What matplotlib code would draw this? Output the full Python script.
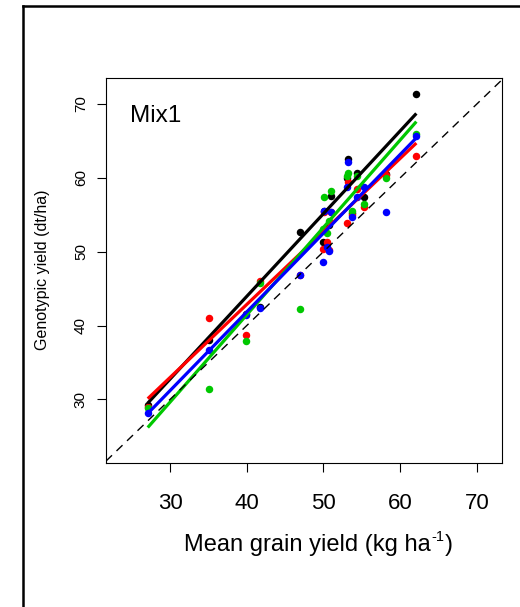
import matplotlib
matplotlib.use('Agg')
import matplotlib.pyplot as plt
from matplotlib.lines import Line2D
from matplotlib.text import Annotation

plt.rcParams['font.family'] = ['Liberation Sans', 'DejaVu Sans']

# environment means (x) and genotypic yields per colour group
env_mean = [27.1, 35.1, 39.9, 41.7, 46.9, 49.9, 50.1, 50.5, 50.7, 51.0,
            53.2, 53.1, 53.7, 54.4, 55.3, 58.2, 62.1]
black_y = [29.2, 38.0, 41.6, 42.5, 52.7, 51.3, 55.5, 51.0, 53.6, 57.5,
           62.6, 60.0, 55.2, 60.7, 57.4, 60.5, 71.4]
red_y = [29.0, 41.0, 38.7, 46.0, 46.9, 50.3, 55.3, 51.3, 50.2, 55.3,
         59.4, 53.9, 55.0, 58.5, 56.0, 60.4, 62.9]
green_y = [28.8, 31.4, 37.9, 45.8, 42.2, 53.0, 57.4, 52.5, 54.2, 58.2,
           60.7, 60.3, 55.5, 60.2, 56.4, 59.9, 65.9]
blue_y = [28.1, 36.7, 41.4, 42.4, 46.8, 48.6, 55.5, 50.6, 50.1, 55.4,
          62.2, 58.7, 54.7, 57.4, 58.7, 55.4, 65.6]

# fitted lines: value at min and max of env_mean
fit_start = {'black': 29.5, 'red': 30.1, 'green': 26.2, 'blue': 28.1}
fit_end = {'black': 68.7, 'red': 64.7, 'green': 67.6, 'blue': 65.4}

colours = {'black': 'black', 'red': '#FF0000', 'green': '#00C800', 'blue': '#0000FF'}
series = {'black': black_y, 'red': red_y, 'green': green_y, 'blue': blue_y}

x_ticks = [30, 40, 50, 60, 70]
y_ticks = [30, 40, 50, 60, 70]


def main():
	fig = plt.figure(figsize=(5.2, 6.07), dpi=100)
	ax = fig.add_axes([106/520, 1-463/607, 396/520, 385/607])

	for name in ['black', 'red', 'green', 'blue']:
		ax.plot(env_mean, series[name], 'o', ms=5.4, mew=0, color=colours[name])

	x0, x1 = min(env_mean), max(env_mean)
	for name in ['black', 'red', 'green', 'blue']:
		ax.plot([x0, x1], [fit_start[name], fit_end[name]], '-', lw=2.3,
			color=colours[name], solid_capstyle='butt')

	ax.axline((30, 30), slope=1, color='black', lw=1.0, dashes=(6, 4.5))

	ax.set_xlim(21.66, 73.26)
	ax.set_ylim(21.4, 73.5)
	ax.set_xticks(x_ticks)
	ax.set_yticks(y_ticks)
	ax.tick_params(axis='x', length=6.5, width=0.8, labelsize=16, pad=15)
	ax.tick_params(axis='y', length=6.5, width=0.8, labelsize=11, pad=6.5)
	for lab in ax.get_yticklabels():
		lab.set_rotation(90)
		lab.set_va('center')
	for s in ax.spines.values():
		s.set_linewidth(0.8)

	ax.text(24/396, (463-121.7)/385, 'Mix1', transform=ax.transAxes,
		fontsize=17.5, va='baseline', ha='left')

	# x label with small raised "-1"
	t1 = fig.text(184/520, 1-551.5/607, 'Mean grain yield (kg ha', fontsize=17,
		ha='left', va='baseline')
	sup = fig.add_artist(Annotation('-1', xy=(1, 1), xycoords=t1,
		xytext=(0.5, 3), textcoords='offset points', fontsize=10.5, ha='left', va='top'))
	fig.add_artist(Annotation(')', xy=(1, 0), xycoords=(sup, t1),
		xytext=(0.5, 0), textcoords='offset points', fontsize=17, ha='left', va='bottom'))

	fig.text(43/520, 1-270/607, 'Genotypic yield (dt/ha)', rotation=90,
		fontsize=11.5, ha='center', va='center')

	# outer frame (only left and top edges fall inside the picture)
	fig.add_artist(Line2D([23/520, 23/520], [0, 1-6/607], color='black', lw=1.8))
	fig.add_artist(Line2D([23/520, 1], [1-6/607, 1-6/607], color='black', lw=1.8))

	plt.savefig('out.png', dpi=100)


if __name__ == "__main__":
	main()
